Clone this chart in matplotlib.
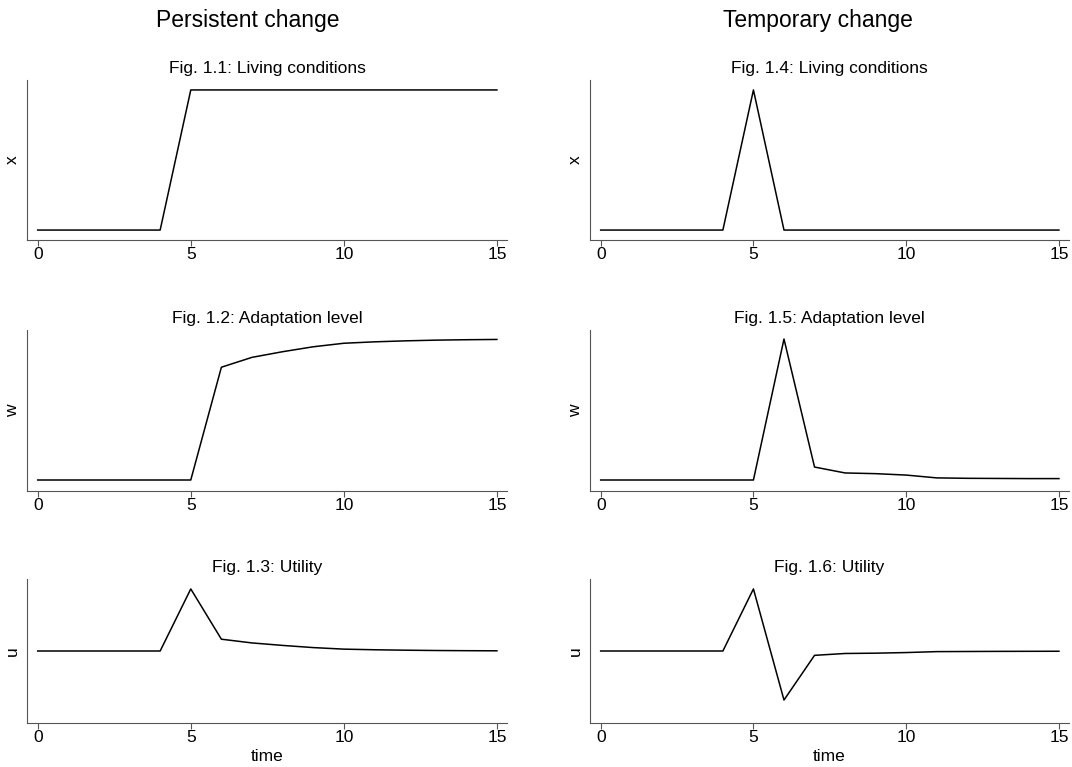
import matplotlib
matplotlib.use("Agg")
import matplotlib.pyplot as plt

plt.rcParams['font.family'] = ['Liberation Sans', 'DejaVu Sans']

# time axis
t = list(range(16))

# persistent change
x_pers = [0, 0, 0, 0, 0, 1, 1, 1, 1, 1, 1, 1, 1, 1, 1, 1]
w_pers = [0, 0, 0, 0, 0, 0, 0.80, 0.87, 0.91, 0.945, 0.97, 0.98, 0.987, 0.992, 0.995, 0.997]
u_pers = [0, 0, 0, 0, 0, 1.0, 0.19, 0.13, 0.09, 0.055, 0.03, 0.02, 0.013, 0.008, 0.005, 0.003]

# temporary change
x_temp = [0, 0, 0, 0, 0, 1, 0, 0, 0, 0, 0, 0, 0, 0, 0, 0]
w_temp = [0, 0, 0, 0, 0, 0, 1.0, 0.092, 0.05, 0.045, 0.035, 0.015, 0.012, 0.011, 0.01, 0.01]
u_temp = [0, 0, 0, 0, 0, 1.0, -0.79, -0.07, -0.04, -0.035, -0.025, -0.01, -0.008, -0.006, -0.005, -0.004]

col_titles = ["Persistent change", "Temporary change"]
panel_titles = [["Fig. 1.1: Living conditions", "Fig. 1.2: Adaptation level", "Fig. 1.3: Utility"],
                ["Fig. 1.4: Living conditions", "Fig. 1.5: Adaptation level", "Fig. 1.6: Utility"]]
ylabels = ["x", "w", "u"]
series = [[x_pers, w_pers, u_pers], [x_temp, w_temp, u_temp]]
xticks = [0, 5, 10, 15]

W, H = 1072, 767
fig = plt.figure(figsize=(W / 100, H / 100), dpi=100)

# pixel boxes (left, right) per column and (top, bottom) per row
cols = [(27, 507), (590, 1069)]
col_title_x = [248, 818]
rows = [(80, 240), (330, 491), (579, 723)]
ylims = [(-0.071, 1.071), (-0.078, 1.064), (-1.16, 1.16)]
spine_col = "#555555"

for c in range(2):
    l, r = cols[c]
    fig.text(col_title_x[c] / W, 1 - 21 / H, col_titles[c], ha="center", va="center", fontsize=16.5)
    for k in range(3):
        top, bot = rows[k]
        ax = fig.add_axes([l / W, 1 - bot / H, (r - l) / W, (bot - top) / H])
        ax.plot(t, series[c][k], color="black", lw=1.1)
        ax.set_xlim(-0.35, 15.33)
        ax.set_ylim(*ylims[k])
        ax.set_xticks(xticks)
        ax.set_yticks([])
        ax.tick_params(axis="x", length=4, width=0.8, color=spine_col, labelsize=12.5, pad=1)
        for s in ["top", "right"]:
            ax.spines[s].set_visible(False)
        for s in ["left", "bottom"]:
            ax.spines[s].set_color(spine_col)
            ax.spines[s].set_linewidth(0.8)
        ax.set_ylabel(ylabels[k], fontsize=12.5, labelpad=5)
        ax.set_title(panel_titles[c][k], fontsize=12.5, pad=5)
        if k == 2:
            ax.set_xlabel("time", fontsize=12.5, labelpad=3)

fig.savefig("out.png", dpi=100, facecolor="white")
